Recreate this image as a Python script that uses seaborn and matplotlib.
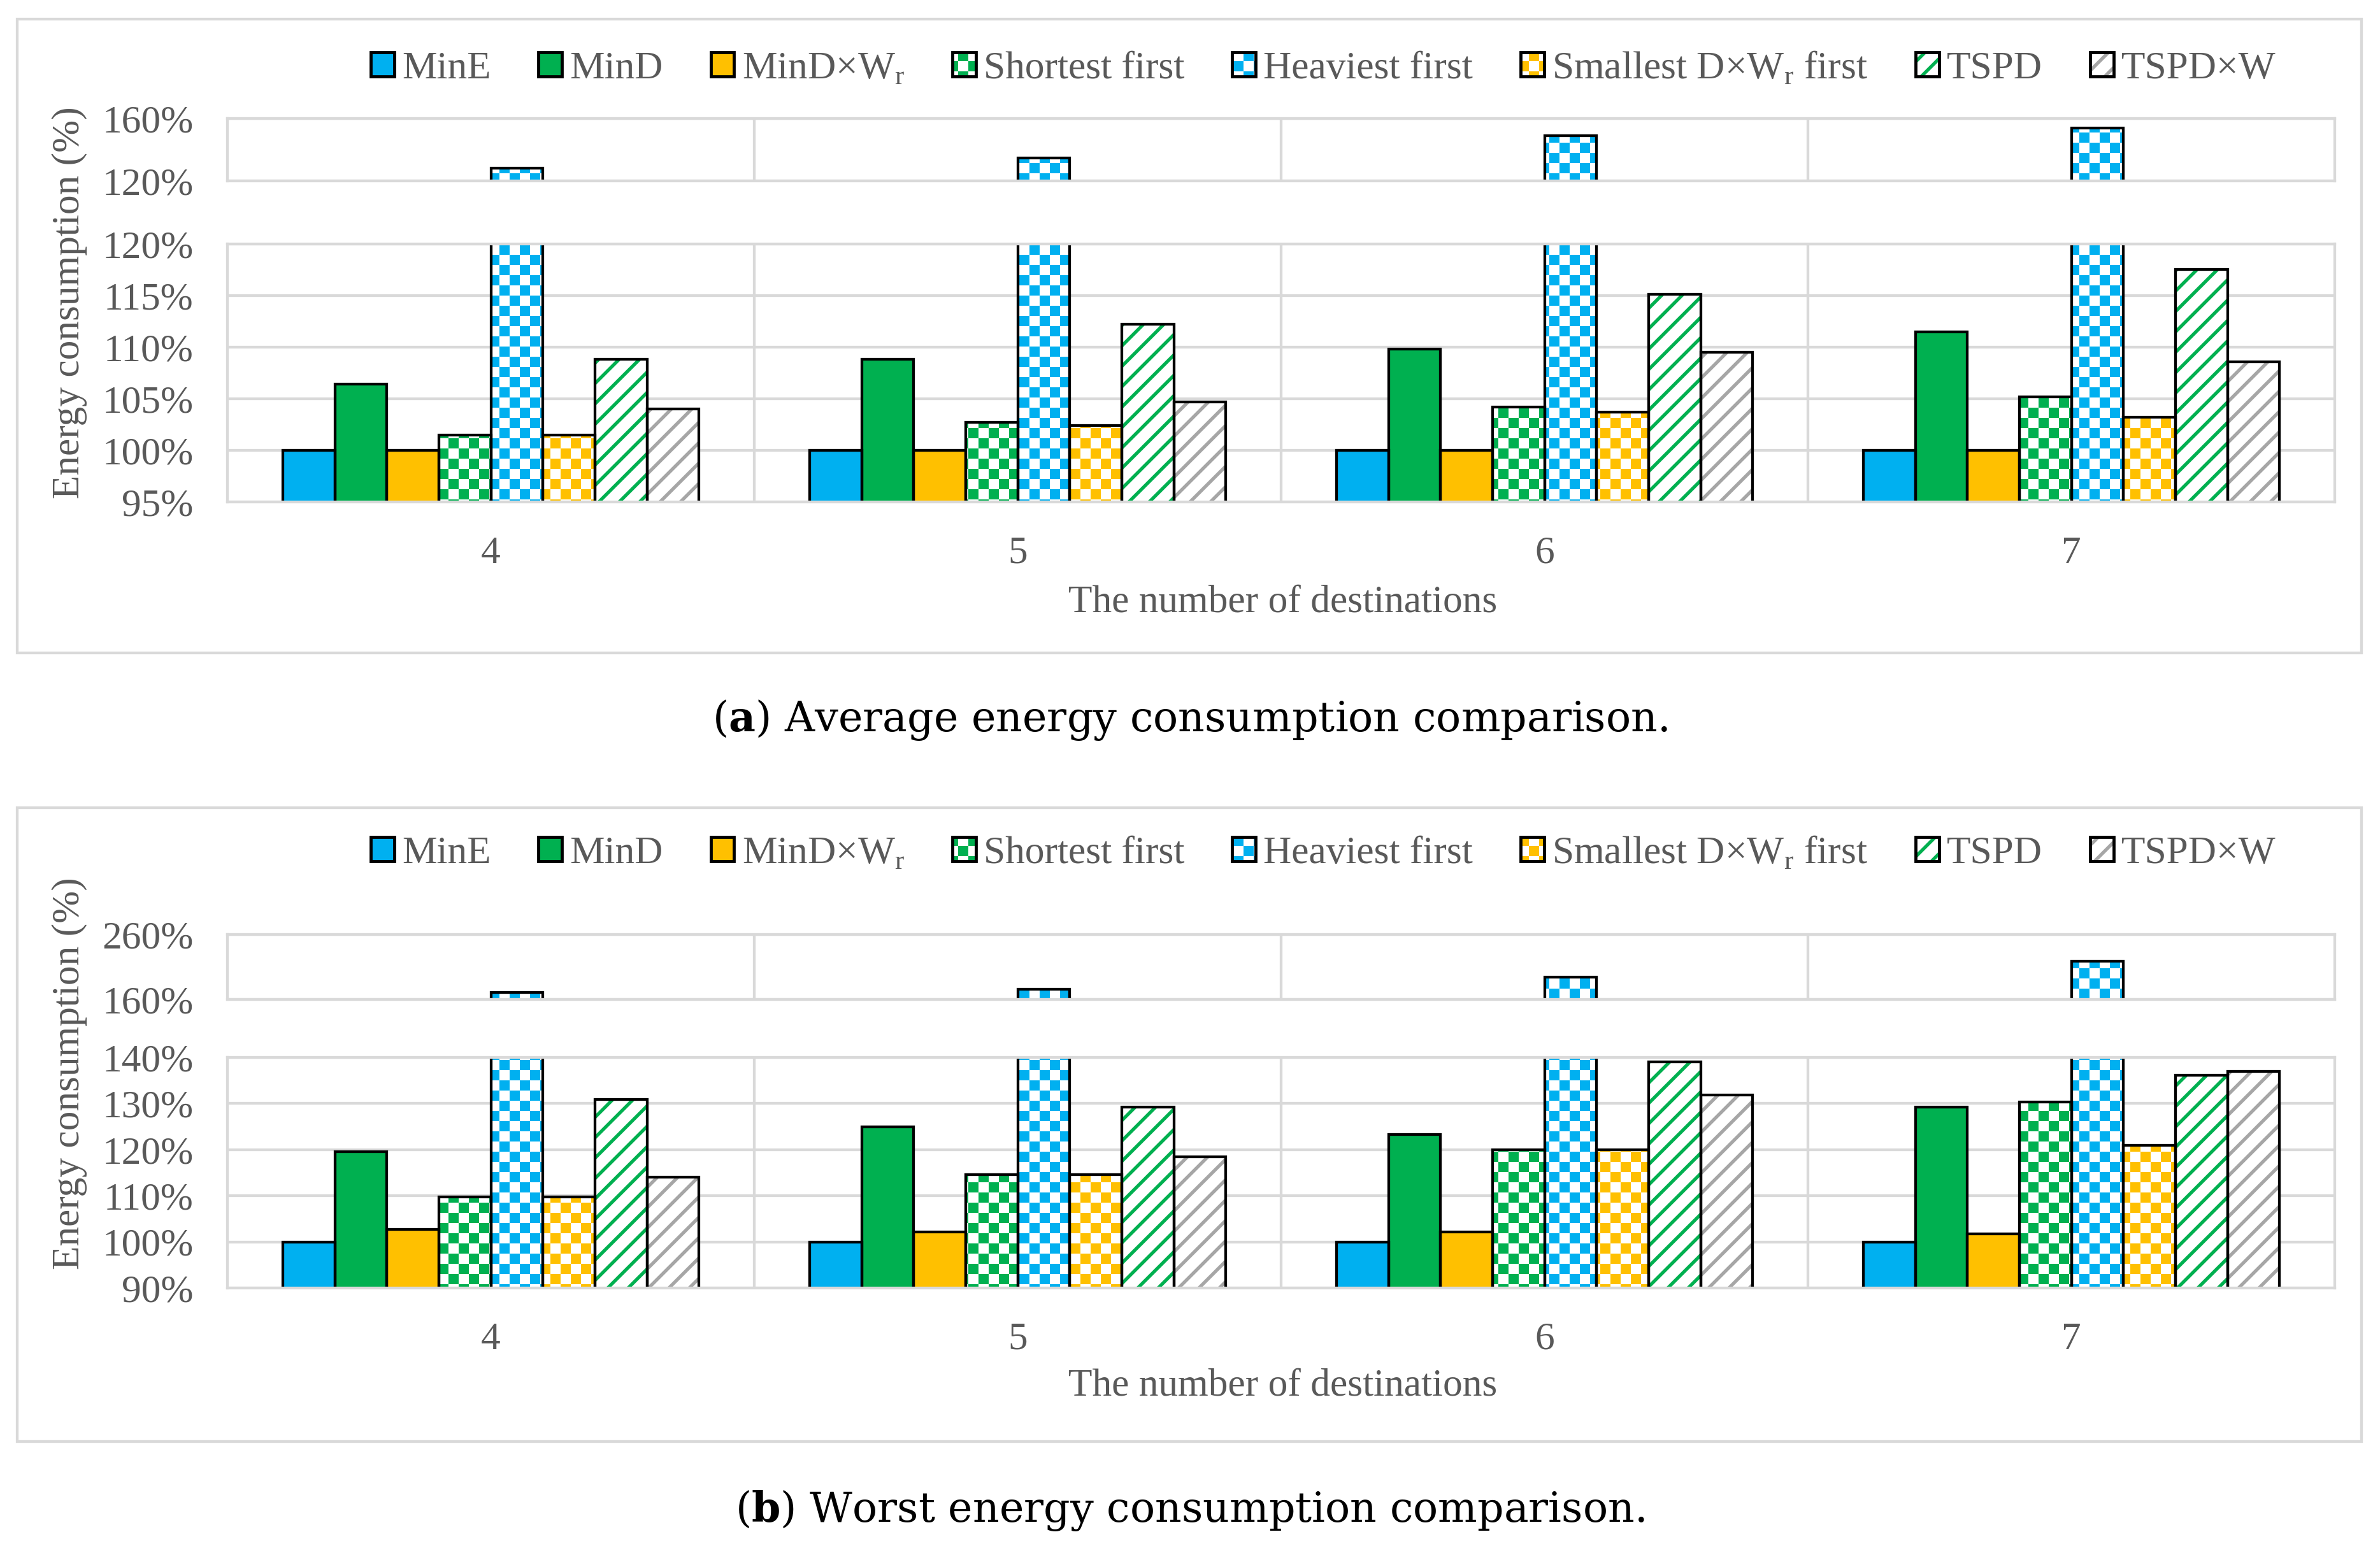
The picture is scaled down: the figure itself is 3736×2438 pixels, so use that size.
import warnings
import numpy as np
import pandas as pd
import seaborn as sns
import matplotlib.pyplot as plt
import matplotlib.hatch as mhatch
from matplotlib.path import Path
from matplotlib.patches import Patch, Rectangle
from matplotlib.legend_handler import HandlerTuple
from matplotlib.ticker import FuncFormatter

warnings.filterwarnings("ignore")

# ---- data (percent of MinE) ----
destinations = ["4", "5", "6", "7"]
methods = ["MinE", "MinD", r"MinD×W$_\mathrm{r}$", "Shortest first", "Heaviest first",
           r"Smallest D×W$_\mathrm{r}$ first", "TSPD", "TSPD×W"]

avg_mine = [100.0, 100.0, 100.0, 100.0]
avg_mind = [106.4, 108.8, 109.8, 111.5]
avg_mindw = [100.0, 100.0, 100.0, 100.0]
avg_shortest = [101.5, 102.7, 104.2, 105.2]
avg_heaviest = [128.1, 134.7, 148.8, 153.8]
avg_smallest = [101.5, 102.4, 103.7, 103.2]
avg_tspd = [108.8, 112.2, 115.1, 117.5]
avg_tspdw = [104.0, 104.7, 109.5, 108.6]

worst_mine = [100.0, 100.0, 100.0, 100.0]
worst_mind = [119.5, 124.9, 123.3, 129.2]
worst_mindw = [102.7, 102.2, 102.2, 101.7]
worst_shortest = [109.7, 114.6, 120.0, 130.3]
worst_heaviest = [171.0, 175.6, 194.6, 218.8]
worst_smallest = [109.7, 114.6, 120.0, 121.0]
worst_tspd = [130.9, 129.2, 139.0, 136.2]
worst_tspdw = [114.1, 118.4, 131.9, 136.9]

# ---- styles ----
fill_colors = ["#00B0F0", "#00B050", "#FFC000", "white", "white", "white", "white", "white"]
hatch_colors = ["#00B0F0", "#00B050", "#FFC000", "#00B050", "#00B0F0", "#FFC000", "#00B050", "#A6A6A6"]
hatches = [None, None, None, "c", "c", "c", "//", "//"]
GRID = "#D9D9D9"
TEXT = "#595959"
FS = 23

sns.set_theme(style="white")
plt.rcParams["font.family"] = ["Liberation Serif", "DejaVu Serif"]
plt.rcParams["mathtext.fontset"] = "custom"
plt.rcParams["mathtext.rm"] = "Liberation Serif"
plt.rcParams["mathtext.bf"] = "DejaVu Serif:bold"
plt.rcParams["hatch.linewidth"] = 2.0


# small checkerboard like the Excel pattern, used with "c" in a hatch string
class Checker(mhatch.HatchPatternBase):
    def __init__(self, hatch, density):
        self.n = hatch.count("c") * int(density) * 2
        self.num_vertices = (self.n * self.n // 2) * 5

    def set_vertices_and_codes(self, vertices, codes):
        c = 1.0 / self.n
        pad = plt.rcParams["hatch.linewidth"] / 72 / 2
        sq = np.array([[0, 0], [1, 0], [1, 1], [0, 1], [0, 0]]) * (c - 2 * pad) + pad
        cells = [(i, j) for i in range(self.n) for j in range(self.n) if (i + j) % 2 == 0]
        vertices[:] = np.concatenate([sq + [i * c, j * c] for i, j in cells])
        codes[:] = np.tile([Path.MOVETO, Path.LINETO, Path.LINETO, Path.LINETO, Path.CLOSEPOLY],
                           len(cells))


mhatch._hatch_types.append(Checker)


def long_table(series):
    rows = [(d, m, v) for m, vals in zip(methods, series) for d, v in zip(destinations, vals)]
    return pd.DataFrame(rows, columns=["destinations", "method", "value"])


def draw_bars(ax, df):
    kw = dict(data=df, x="destinations", y="value", hue="method", hue_order=methods,
              palette=fill_colors, saturation=1, width=0.79, errorbar=None, legend=False, ax=ax)
    sns.barplot(**kw)
    for cont, h, hc in zip(ax.containers, hatches, hatch_colors):
        for bar in cont:
            bar.set_hatch(h)
            bar.set_edgecolor(hc)
            bar.set_linewidth(0)
    n = len(ax.containers)
    sns.barplot(**kw)
    for cont in ax.containers[n:]:
        for bar in cont:
            bar.set_facecolor("none")
            bar.set_edgecolor("black")
            bar.set_linewidth(1.6)


def style_axis(ax, ylim, ticks, show_x):
    ax.set_xlim(-0.5, 3.5)
    ax.set_ylim(*ylim)
    ax.set_yticks(ticks)
    ax.yaxis.set_major_formatter(FuncFormatter(lambda v, p: f"{v:.0f}%"))
    ax.set_xticks([0.5, 1.5, 2.5], minor=True)
    ax.grid(True, axis="y", which="major", color=GRID, lw=1.6)
    ax.grid(True, axis="x", which="minor", color=GRID, lw=1.6)
    ax.set_axisbelow(True)
    ax.tick_params(which="both", length=0, labelsize=FS, labelcolor=TEXT, pad=20)
    ax.tick_params(axis="x", labelbottom=show_x)
    for sp in ax.spines.values():
        sp.set_color(GRID)
        sp.set_linewidth(1.6)
    ax.set_xlabel("")
    ax.set_ylabel("")


fig = plt.figure(figsize=(3736 / 192, 2438 / 192), dpi=192)

avg = long_table([avg_mine, avg_mind, avg_mindw, avg_shortest, avg_heaviest,
                  avg_smallest, avg_tspd, avg_tspdw])
worst = long_table([worst_mine, worst_mind, worst_mindw, worst_shortest, worst_heaviest,
                    worst_smallest, worst_tspd, worst_tspdw])

panels = [
    # data, top box, bottom box, top range, bottom range, frame y, legend y, xlabel y, ylabel y, caption
    (avg, [0.09556, 0.88351, 0.88544, 0.04020], [0.09556, 0.67679, 0.88544, 0.16612],
     (120, 160), [120, 160], (95, 120), [95, 100, 105, 110, 115, 120],
     0.57957, 0.9561, 0.612, 0.805, 0.5365, r"($\mathbf{a}$) Average energy consumption comparison."),
    (worst, [0.09556, 0.35644, 0.88544, 0.04184], [0.09556, 0.17063, 0.88544, 0.14848],
     (160, 260), [160, 260], (90, 140), [90, 100, 110, 120, 130, 140],
     0.07178, 0.4508, 0.1075, 0.309, 0.0271, r"($\mathbf{b}$) Worst energy consumption comparison."),
]

for (df, top_box, bot_box, top_lim, top_ticks, bot_lim, bot_ticks,
     frame_y, leg_y, xl_y, yl_y, cap_y, caption) in panels:
    fig.add_artist(Rectangle((0.00723, frame_y), 0.98501, 0.40812, transform=fig.transFigure,
                             fill=False, edgecolor=GRID, linewidth=1.6))
    ax_top = fig.add_axes(top_box)
    ax_bot = fig.add_axes(bot_box)
    draw_bars(ax_top, df)
    draw_bars(ax_bot, df)
    style_axis(ax_top, top_lim, top_ticks, False)
    style_axis(ax_bot, bot_lim, bot_ticks, True)

    handles = [(Patch(facecolor=fc, hatch=h, edgecolor=hc, linewidth=0),
                Patch(facecolor="none", edgecolor="black", linewidth=1.8))
               for fc, h, hc in zip(fill_colors, hatches, hatch_colors)]
    fig.legend(handles, methods, handler_map={tuple: HandlerTuple(ndivide=1)},
               loc="center", bbox_to_anchor=(0.556, leg_y), ncol=8, frameon=False,
               fontsize=FS, labelcolor=TEXT, handlelength=0.6, handleheight=0.58,
               handletextpad=0.2, columnspacing=1.22, borderpad=0, borderaxespad=0)

    fig.text(0.539, xl_y, "The number of destinations", ha="center", va="center",
             fontsize=FS, color=TEXT)
    fig.text(0.0292, yl_y, "Energy consumption (%)", rotation=90, ha="center", va="center",
             fontsize=FS, color=TEXT)
    fig.text(0.5, cap_y, caption, ha="center", va="center", fontsize=24.4,
             family="DejaVu Serif", color="black")

fig.savefig("out.png", dpi=192)
